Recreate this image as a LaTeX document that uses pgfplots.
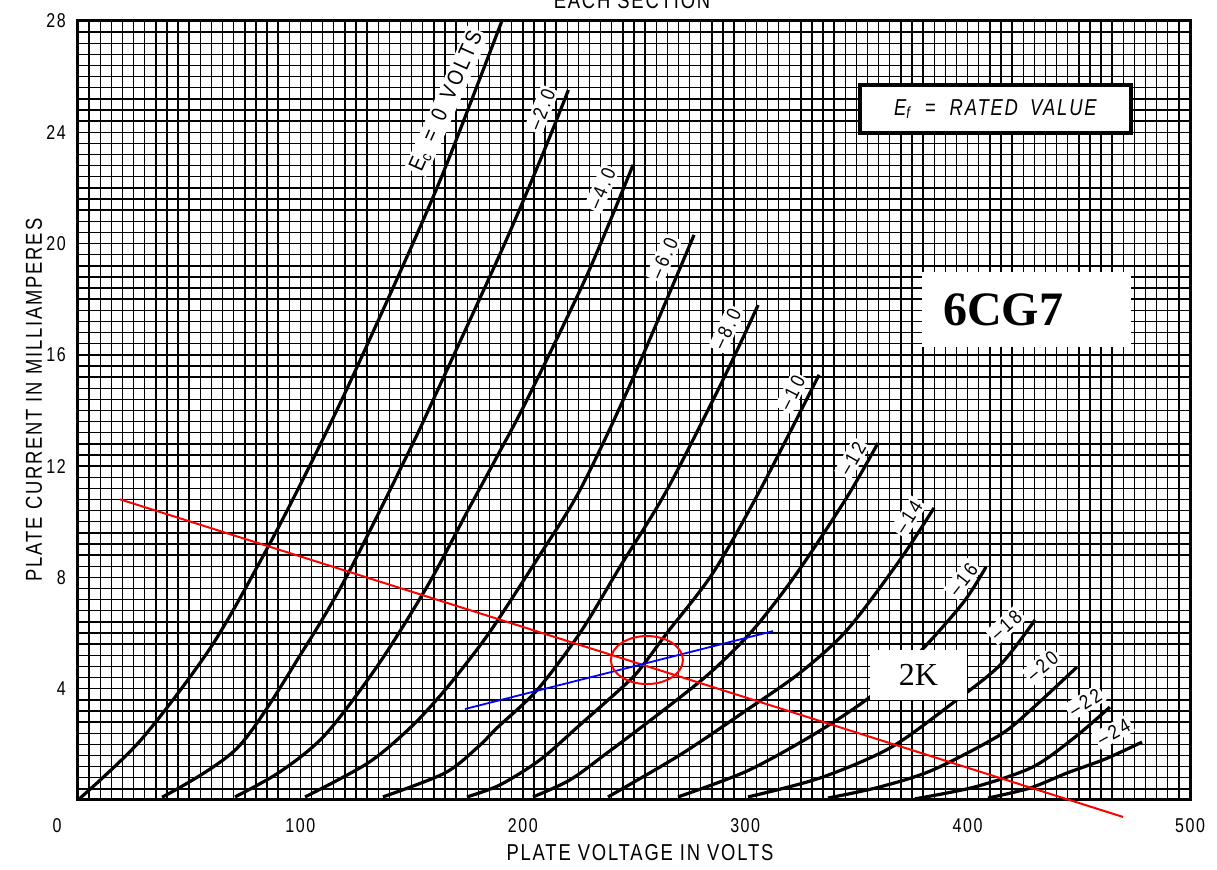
\documentclass[border=0pt]{standalone}
\usepackage{fontspec}
\setmainfont{Liberation Serif}
\newfontfamily\lr[FakeStretch=0.8,LetterSpace=8]{Liberation Sans}
\newfontfamily\lrl[FakeStretch=0.85,LetterSpace=15]{Liberation Sans}
\usepackage{pgfplots}
\pgfplotsset{compat=1.18}
\tikzset{
  curve/.style={black, line width=1.6pt, smooth, mark=none},
  lbl/.style={fill=white, inner sep=1.2pt, font=\lrl\fontsize{10}{12}\selectfont},
}
\begin{document}
\begin{tikzpicture}
\begin{axis}[
  at={(0,0)}, anchor=south west,
  scale only axis, width=556pt, height=389.5pt,
  xmin=0, xmax=500, ymin=0, ymax=28,
  xtick={0,100,...,500}, xticklabels={,100,200,300,400,500},
  ytick={4,8,...,28},
  minor xtick={0,5,...,500}, minor ytick={0,0.4,...,28},
  grid=both,
  major grid style={black, line width=0.7pt},
  minor grid style={black, line width=0.7pt},
  major tick length=0pt, minor tick length=0pt,
  axis line style={line width=1.5pt},
  /pgf/number format/assume math mode=true,
  tick label style={font=\lr\fontsize{10}{12}\selectfont},
  xticklabel style={yshift=-5.6pt},
  yticklabel style={xshift=-2.6pt},
  clip=false,
]
\coordinate (bl) at (rel axis cs:0,0);
\coordinate (tr) at (rel axis cs:1,1);

% curve labels
\node[lbl, rotate=66, font=\lrl\fontsize{11}{13}\selectfont] at (axis cs:165.8,25.11) {E\textsubscript{c}\hspace{6pt}=\hspace{6pt}0\hspace{6pt}VOLTS};
\node[lbl, rotate=68] at (axis cs:208.45,24.81) {\textendash2.0};
\node[lbl, rotate=67] at (axis cs:235.47,21.98) {\textendash4.0};
\node[lbl, rotate=66] at (axis cs:263.4,19.47) {\textendash6.0};
\node[lbl, rotate=65] at (axis cs:291.73,16.93) {\textendash8.0};
\node[lbl, rotate=63] at (axis cs:320.99,14.64) {\textendash10};
\node[lbl, rotate=60] at (axis cs:348.09,12.27) {\textendash12};
\node[lbl, rotate=57] at (axis cs:373.4,10.17) {\textendash14};
\node[lbl, rotate=52] at (axis cs:397.9,7.93) {\textendash16};
\node[lbl, rotate=42] at (axis cs:417.3,6.28) {\textendash18};
\node[lbl, rotate=40] at (axis cs:433.6,4.82) {\textendash20};
\node[lbl, rotate=32] at (axis cs:452.85,3.51) {\textendash22};
\node[lbl, rotate=29] at (axis cs:465.64,2.44) {\textendash24};

% plate curves
\addplot[curve] coordinates {(0,0) (28.3,2.16) (59.8,5.5) (85.4,9.09) (104.8,12.11) (122.8,15.1) (150,19.9) (166,22.9) (190.6,28)};
\addplot[curve] coordinates {(37.8,0.1) (72,1.9) (102.2,5.5) (121.6,8.16) (149.8,12.69) (159.7,14.38) (191.2,19.88) (209.2,23.26) (220.5,25.52)};
\addplot[curve] coordinates {(70.6,0.11) (90.8,1.01) (111.1,2.34) (134.9,4.85) (157.4,7.73) (175.4,10.42) (188.8,12.4) (202.3,14.45) (228.9,18.87) (249.6,22.83)};
\addplot[curve] coordinates {(102.1,0.11) (130.4,1.33) (149.7,2.62) (165,3.95) (179.9,5.46) (188.8,6.47) (207.7,8.81) (225.7,11.14) (248.2,14.92) (277,20.31)};
\addplot[curve] coordinates {(137.1,0.11) (165,0.97) (179.9,1.91) (188.8,2.62) (206.4,3.95) (225.7,6.0) (243.7,8.38) (264.8,11.14) (290,15.1) (305.8,17.79)};
\addplot[curve] coordinates {(174.9,0.11) (189.7,0.54) (207.7,1.44) (225.7,2.70) (248.2,4.31) (255.8,5.03) (264.8,6.0) (285.5,8.16) (306.7,11.14) (333.2,15.28)};
\addplot[curve] coordinates {(204.6,0.11) (221.2,0.72) (237.9,1.69) (261.7,3.13) (284.2,4.57) (303.5,6.11) (323.3,8.16) (345.8,10.89) (359.7,12.83)};
\addplot[curve] coordinates {(238.3,0.11) (270.7,1.62) (300.8,3.24) (324.6,4.57) (345.8,6.11) (369.6,8.63) (384.9,10.5)};
\addplot[curve] coordinates {(269.8,0.11) (300.8,1.04) (330.5,2.34) (356.1,3.70) (377.2,5.21) (397.9,7.08) (408.3,8.38)};
\addplot[curve] coordinates {(301.3,0.11) (333.6,0.79) (365.1,1.87) (393.4,3.49) (414.6,4.85) (430.3,6.47)};
\addplot[curve] coordinates {(337.2,0.07) (360.6,0.47) (384.4,1.08) (414.6,2.34) (429.4,3.31) (449.2,4.78)};
\addplot[curve] coordinates {(376.3,0.04) (403.3,0.47) (429.4,1.19) (448.3,2.26) (464,3.34)};
\addplot[curve] coordinates {(409.2,0.07) (428.1,0.43) (444.7,0.97) (461.8,1.47) (478.4,2.08)};

% boxes
\node[draw=black, line width=2pt, fill=white, minimum width=135.5pt, minimum height=24pt, inner sep=0pt]
  at (axis cs:412.5,24.84) {\lr\itshape\fontsize{11.5}{13}\selectfont E\textsubscript{f}\hspace{7pt}=\hspace{7pt}RATED\hspace{6pt}VALUE};
\node[fill=white, minimum width=104.5pt, minimum height=37.5pt, inner sep=0pt]
  at (axis cs:426.5,17.63) {\makebox[104.5pt][l]{\hspace{10.5pt}\bfseries\fontsize{24}{28}\selectfont 6CG7}};
\node[fill=white, minimum width=48.5pt, minimum height=25pt, inner sep=0pt]
  at (axis cs:377.9,4.49) {\fontsize{16}{18}\selectfont 2K};

% load lines
\addplot[red, line width=1pt, mark=none] coordinates {(18.75,10.81) (469.9,-0.61)};
\addplot[blue, line width=0.9pt, mark=none] coordinates {(174,3.27) (312.5,6.07)};
\draw[red, line width=1pt] (axis cs:255.8,5.03) ellipse [x radius=18pt, y radius=12pt];

% texts
\node[anchor=north, inner sep=0pt, font=\lr\fontsize{10}{12}\selectfont] at ([xshift=-10.5pt,yshift=-9pt]axis cs:0,0) {0};
\node[font=\lr\fontsize{11.5}{13}\selectfont] at (axis cs:252.7,-1.905) {PLATE VOLTAGE IN VOLTS};
\node[rotate=90, font=\lr\fontsize{11.5}{13}\selectfont] at (axis cs:-19.8,14.38) {PLATE CURRENT IN MILLIAMPERES};
\node[anchor=base, inner sep=0pt, font=\lr\fontsize{11.5}{13}\selectfont] at (axis cs:249.1,28.46) {EACH SECTION};
\end{axis}
\pgfresetboundingbox
\path[use as bounding box] ([xshift=-39pt,yshift=-35pt]bl) rectangle ([xshift=13.5pt,yshift=10.5pt]tr);
\end{tikzpicture}
\end{document}
